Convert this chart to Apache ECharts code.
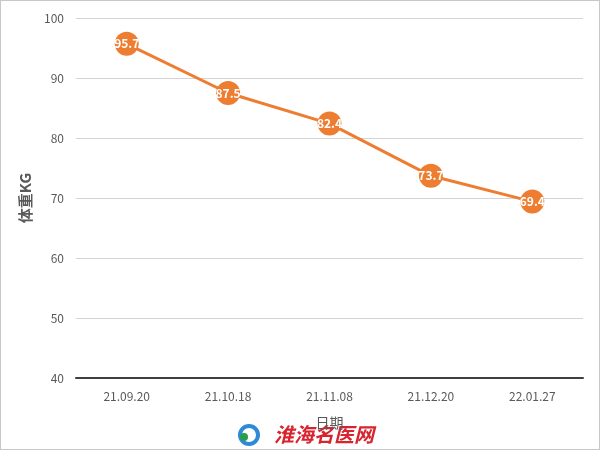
<!DOCTYPE html>
<html>
<head>
<meta charset="utf-8">
<script src="https://cdn.jsdelivr.net/npm/echarts@6/dist/echarts.min.js"></script>
<style>
html,body{margin:0;padding:0;background:#fff;}
#c{width:600px;height:450px;box-sizing:border-box;border:1px solid #c8c8c8;}
</style>
</head>
<body>
<div id="c"></div>
<script>
var categories = ['21.09.20', '21.10.18', '21.11.08', '21.12.20', '22.01.27'];
var weights = [95.7, 87.5, 82.4, 73.7, 69.4];
var yTicks = [40, 50, 60, 70, 80, 90, 100];

var chart = echarts.init(document.getElementById('c'));
var font = '"Noto Sans CJK SC", "Open Sans", sans-serif';
chart.setOption({
  animation: false,
  textStyle: { fontFamily: font },
  grid: { left: 75, right: 16, top: 17, bottom: 71, containLabel: false },
  xAxis: {
    type: 'category',
    data: categories,
    boundaryGap: true,
    name: '日期',
    nameLocation: 'middle',
    nameGap: 38,
    nameTextStyle: { color: '#595959', fontSize: 14 },
    axisLine: { lineStyle: { color: '#404040', width: 2 } },
    axisTick: { show: false },
    axisLabel: { color: '#595959', fontSize: 12, margin: 12 }
  },
  yAxis: {
    type: 'value',
    min: yTicks[0],
    max: yTicks[yTicks.length - 1],
    interval: 10,
    name: '体重KG',
    nameLocation: 'middle',
    nameGap: 42,
    nameTextStyle: { color: '#595959', fontSize: 15, fontWeight: 'bold' },
    axisLine: { show: false },
    axisTick: { show: false },
    axisLabel: { color: '#595959', fontSize: 12, margin: 12 },
    splitLine: { lineStyle: { color: '#d4d4d4', width: 1 } }
  },
  series: [{
    type: 'line',
    data: weights,
    symbol: 'circle',
    symbolSize: 24,
    lineStyle: { color: '#ED7D31', width: 3 },
    itemStyle: { color: '#ED7D31' },
    label: {
      show: true,
      position: 'inside',
      color: '#fff',
      fontSize: 12,
      fontWeight: 'bold'
    }
  }],
  graphic: [{
    type: 'text',
    left: 273,
    top: 423,
    style: {
      text: '淮海名医网',
      fill: '#d8242f',
      font: 'italic bold 20px "Noto Sans CJK SC", sans-serif'
    }
  }, {
    type: 'circle',
    shape: { cx: 248, cy: 434, r: 9 },
    style: { fill: 'none', stroke: '#2e8ad8', lineWidth: 4 }
  }, {
    type: 'circle',
    shape: { cx: 243, cy: 436, r: 4 },
    style: { fill: '#2a9d4a' }
  }]
});
</script>
</body>
</html>
